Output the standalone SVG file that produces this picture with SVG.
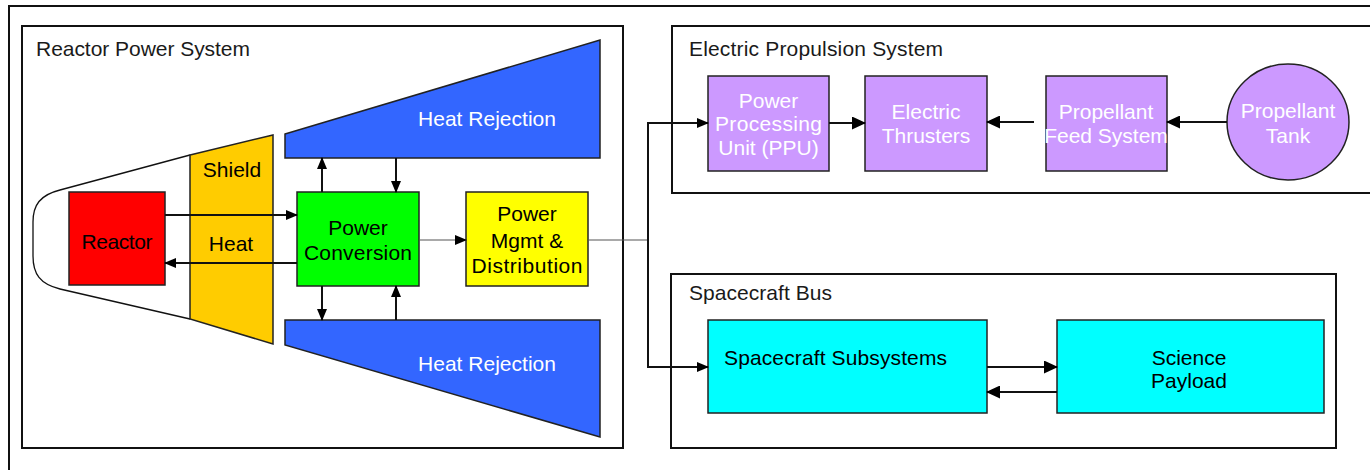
<svg xmlns="http://www.w3.org/2000/svg" width="1370" height="470" viewBox="0 0 1370 470">
  <defs>
    <style>
      text { font-family: "Liberation Sans", Arial, sans-serif; font-size: 21px; }
      .title { fill: #1a1a1a; }
      .lbl { fill: #000; text-anchor: middle; }
      .wlbl { fill: #fff; text-anchor: middle; }
      .frame { fill: none; stroke: #111; stroke-width: 2; }
      .node { stroke: #222; stroke-width: 1.5; }
      .conn { fill: none; stroke: #111; stroke-width: 2; }
      .thin { fill: none; stroke: #555; stroke-width: 1.2; }
      .red { fill: #ff0000; }
      .amber { fill: #ffcc00; }
      .green { fill: #00ff00; }
      .yellow { fill: #ffff00; }
      .blue { fill: #3366ff; }
      .violet { fill: #cc99ff; }
      .cyan { fill: #00ffff; }
    </style>
    <marker id="ah" markerUnits="userSpaceOnUse" markerWidth="12" markerHeight="10" refX="11" refY="5" orient="auto">
      <path d="M0,0 L12,5 L0,10 z" fill="#000"/>
    </marker>
    <marker id="ahL" markerUnits="userSpaceOnUse" markerWidth="14" markerHeight="13" refX="13" refY="6.5" orient="auto">
      <path d="M0,0 L14,6.5 L0,13 z" fill="#000"/>
    </marker>
  </defs>

  <rect x="0" y="0" width="1370" height="470" fill="#fff"/>

  <!-- outer page frame -->
  <rect class="frame" x="9" y="6" width="1400" height="500"/>

  <!-- subsystem containers -->
  <g id="reactor-power-system">
    <rect class="frame" x="22" y="26" width="601" height="422"/>
    <text class="title" x="36" y="55.5" textLength="214" lengthAdjust="spacing">Reactor Power System</text>
  </g>
  <g id="electric-propulsion-system">
    <rect class="frame" x="672" y="26" width="720" height="167" stroke-width="2.5"/>
    <text class="title" x="689" y="55.5" textLength="254" lengthAdjust="spacing">Electric Propulsion System</text>
  </g>
  <g id="spacecraft-bus">
    <rect class="frame" x="671" y="274" width="665" height="174"/>
    <text class="title" x="689" y="299.5" textLength="143" lengthAdjust="spacing">Spacecraft Bus</text>
  </g>

  <!-- reactor enclosure outline -->
  <g id="enclosure">
    <path d="M190,155 L60,190 C40,195 33,205 33,222 L33,256 C33,274 40,284 60,289 L190,319" fill="#fff" stroke="#111" stroke-width="1.3"/>
  </g>

  <g id="shield">
    <polygon class="node amber" points="190,155 273,135 273,344 190,319"/>
    <text class="lbl" x="232" y="176.5">Shield</text>
    <text class="lbl" x="231" y="250.5">Heat</text>
  </g>

  <g id="reactor">
    <rect class="node red" x="69" y="192" width="96" height="93"/>
    <text class="lbl" x="117" y="248.5" textLength="71" lengthAdjust="spacing">Reactor</text>
  </g>

  <g id="power-conversion">
    <rect class="node green" x="297" y="192" width="122" height="94"/>
    <text class="lbl" x="358" y="234.5">Power</text>
    <text class="lbl" x="358" y="259.5" textLength="108" lengthAdjust="spacing">Conversion</text>
  </g>

  <g id="power-mgmt">
    <rect class="node yellow" x="466" y="192" width="122" height="94"/>
    <text class="lbl" x="527" y="220.5">Power</text>
    <text class="lbl" x="527" y="247.5">Mgmt &amp;</text>
    <text class="lbl" x="527" y="272.5" textLength="111" lengthAdjust="spacing">Distribution</text>
  </g>

  <g id="heat-rejection-upper">
    <polygon class="node blue" points="285,134 600,40 600,158 285,158" stroke-width="1"/>
    <text class="wlbl" x="487" y="125.5" textLength="138" lengthAdjust="spacing">Heat Rejection</text>
  </g>

  <g id="heat-rejection-lower">
    <polygon class="node blue" points="285,320 600,320 600,437 285,345" stroke-width="1"/>
    <text class="wlbl" x="487" y="370.5" textLength="138" lengthAdjust="spacing">Heat Rejection</text>
  </g>

  <g id="ppu">
    <rect class="node violet" x="708" y="76" width="121" height="95"/>
    <text class="wlbl" x="768.5" y="107.5">Power</text>
    <text class="wlbl" x="768.5" y="130.5" textLength="107" lengthAdjust="spacing">Processing</text>
    <text class="wlbl" x="768.5" y="154.5">Unit (PPU)</text>
  </g>

  <g id="electric-thrusters">
    <rect class="node violet" x="865" y="76" width="122" height="95"/>
    <text class="wlbl" x="926" y="118.5">Electric</text>
    <text class="wlbl" x="926" y="142.5">Thrusters</text>
  </g>

  <g id="propellant-feed">
    <rect class="node violet" x="1046" y="76" width="121" height="95"/>
    <text class="wlbl" x="1106" y="118.5">Propellant</text>
    <text class="wlbl" x="1106" y="142.5">Feed System</text>
  </g>

  <g id="propellant-tank">
    <ellipse class="node violet" cx="1288" cy="122" rx="61" ry="58"/>
    <text class="wlbl" x="1288" y="117.5">Propellant</text>
    <text class="wlbl" x="1288" y="142.5">Tank</text>
  </g>

  <g id="spacecraft-subsystems">
    <rect class="node cyan" x="708" y="320" width="279" height="93"/>
    <text class="lbl" x="835.5" y="364.5" textLength="223" lengthAdjust="spacing">Spacecraft Subsystems</text>
  </g>

  <g id="science-payload">
    <rect class="node cyan" x="1057" y="320" width="267" height="93"/>
    <text class="lbl" x="1189" y="364.5">Science</text>
    <text class="lbl" x="1189" y="387.5">Payload</text>
  </g>

  <!-- connectors -->
  <g id="connectors">
    <path class="conn" d="M165,215 H297" marker-end="url(#ah)"/>
    <path class="conn" d="M297,263 H165" marker-end="url(#ah)"/>
    <path class="conn" d="M322,192 V158" marker-end="url(#ah)"/>
    <path class="conn" d="M396,158 V192" marker-end="url(#ah)" stroke-width="1.5"/>
    <path class="conn" d="M322,286 V320" marker-end="url(#ah)"/>
    <path class="conn" d="M396,320 V286" marker-end="url(#ah)" stroke-width="1.5"/>
    <path class="thin" d="M419,240 H466" marker-end="url(#ah)"/>
    <path class="thin" d="M588,240 H648"/>
    <path class="conn" d="M648,240 V123 H708" marker-end="url(#ah)"/>
    <path class="conn" d="M648,240 V367 H708" marker-end="url(#ah)"/>
    <path class="conn" d="M829,123 H865" marker-end="url(#ahL)"/>
    <path class="conn" d="M1034,122 H987" marker-end="url(#ahL)"/>
    <path class="conn" d="M1227,122 H1167" marker-end="url(#ahL)"/>
    <path class="conn" d="M987,367 H1057" marker-end="url(#ahL)"/>
    <path class="conn" d="M1057,392 H987" marker-end="url(#ahL)"/>
  </g>
</svg>
